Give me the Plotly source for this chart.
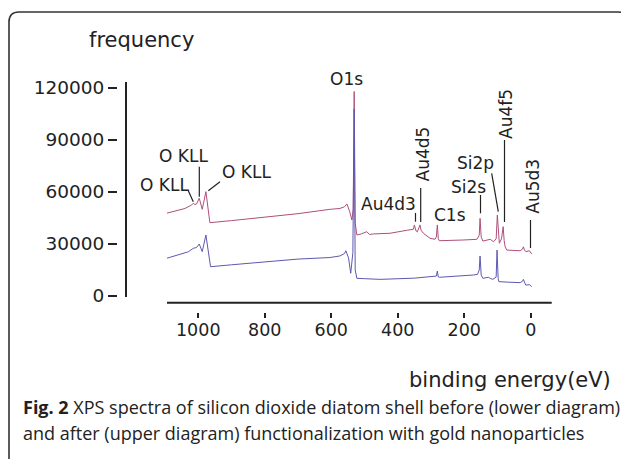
import plotly.graph_objects as go

# ---------------- data ----------------
upper_ev = [1096, 1060, 1040, 1020, 1015, 1010, 1005, 997, 988, 977, 970, 965,
            900, 800, 700, 604, 574, 560, 553, 545, 538, 534, 531, 528, 523,
            510, 493, 485, 473, 423, 400, 370, 353, 350, 345, 341, 333, 330,
            323, 303, 288, 284, 281, 278, 275, 240, 203, 162, 155, 152.5, 149,
            144, 130, 122, 112, 104, 100.5, 97, 94.5, 88, 85, 83, 80, 77, 72,
            50, 32, 25, 22, 19, 15, 4, -3]
upper_counts = [47700, 49500, 50500, 52500, 53500, 52800, 53100, 56400, 50000,
                60200, 50000, 42300, 43500, 45500, 47500, 50000, 50500, 51500,
                53100, 49000, 43900, 50000, 118000, 42000, 35200, 35800, 37100,
                35500, 35800, 36200, 36800, 38000, 38500, 41000, 37500, 37100,
                41000, 38000, 36200, 33300, 32700, 34000, 41000, 33000, 31900,
                32000, 32300, 32700, 35000, 44800, 34000, 31700, 32200, 32700,
                31300, 33000, 46700, 34000, 30400, 33000, 39000, 40000, 32000,
                28400, 26500, 26300, 26100, 27000, 28400, 26500, 25600, 26100,
                24200]

lower_ev = [1096, 1060, 1030, 1015, 1005, 997, 988, 977, 970, 963, 900, 800,
            700, 604, 574, 560, 556, 548, 541.5, 535, 531, 528, 523, 500, 453,
            350, 293, 284, 281, 278, 275, 200, 172.7, 160, 155, 152.5, 149,
            144, 127.5, 120, 114, 104, 101.4, 98, 96, 70, 32, 25, 22, 19, 15,
            4, -3]
lower_counts = [21700, 23800, 25500, 27500, 28000, 30000, 25600, 35200, 25000,
                16900, 18000, 19800, 21300, 22200, 23100, 24500, 26100, 22000,
                13100, 25000, 108000, 15000, 10200, 10000, 9600, 10300, 11100,
                11500, 14400, 11000, 10800, 11500, 12100, 12500, 15000, 23100,
                12000, 10200, 10800, 10000, 9600, 11000, 26500, 10000, 8300,
                8000, 7700, 8500, 9600, 8000, 6300, 6500, 5400]

x_tick_vals = [1000, 800, 600, 400, 200, 0]
x_tick_text = ["1000", "800", "600", "400", "200", "0"]
y_tick_vals = [0, 30000, 60000, 90000, 120000]
y_tick_text = ["0", "30000", "60000", "90000", "120000"]

peak_labels = ["O1s", "Au4d5", "Au4d3", "C1s", "Si2s", "Si2p", "Au4f5", "Au5d3",
               "O KLL", "O KLL", "O KLL"]

# ---------------- layout helpers (page pixel -> paper) ----------------
W, H = 629, 459
OX, OY = 8, 8   # default page body margin


def PX(px):
    return (px - OX) / W


def PY(py):
    return 1 - (py - OY) / H


INK = "#222222"
CHART_FONT = "DejaVu Sans"

fig = go.Figure()
fig.add_trace(go.Scatter(x=upper_ev, y=upper_counts, mode="lines",
                         line=dict(color="#ad4f7a", width=1),
                         showlegend=False, hoverinfo="skip"))
fig.add_trace(go.Scatter(x=lower_ev, y=lower_counts, mode="lines",
                         line=dict(color="#5d58b0", width=1),
                         showlegend=False, hoverinfo="skip"))

# plot area: x from px 167 to 551.7, y from px 82 (top) to px 311.5 (tick row)
PX_PER_COUNT = 208 / 120000          # 0 at px 296, 120000 at px 88
y_bottom_val = -(311.5 - 296) / PX_PER_COUNT
y_top_val = (296 - 82) / PX_PER_COUNT
x_range = [1094, -63]
y_range = [y_bottom_val, y_top_val]

fig.update_layout(
    template="none",
    width=W, height=H,
    margin=dict(l=0, r=0, t=0, b=0, pad=0, autoexpand=False),
    paper_bgcolor="white", plot_bgcolor="rgba(0,0,0,0)",
    font=dict(family=CHART_FONT, color=INK),
    xaxis=dict(domain=[PX(167), PX(551.7)], range=x_range, anchor="y",
               showline=False, ticks="outside", ticklen=5, tickwidth=1.5,
               tickcolor=INK, tickvals=x_tick_vals, ticktext=x_tick_text,
               tickfont=dict(size=17.5, color=INK), ticklabelstandoff=-3,
               showgrid=False, zeroline=False, automargin=False,
               fixedrange=True),
    yaxis=dict(domain=[PY(311.5), PY(82)], range=y_range, anchor="free",
               position=PX(117), showline=False, ticks="outside", ticklen=9,
               tickwidth=2, tickcolor=INK, tickvals=y_tick_vals,
               ticktext=y_tick_text, tickfont=dict(size=18.5, color=INK),
               showgrid=False, zeroline=False, automargin=False,
               fixedrange=True),
)

# axis lines (detached from the tick marks, as in the original)
fig.add_shape(type="line", xref="paper", yref="paper",
              x0=PX(126), x1=PX(126), y0=PY(82), y1=PY(297),
              line=dict(color=INK, width=2))
fig.add_shape(type="line", xref="paper", yref="paper",
              x0=PX(167), x1=PX(551.7), y0=PY(302.7), y1=PY(302.7),
              line=dict(color=INK, width=2))

# ---------------- peak labels ----------------
label_pos = [(346, 79, 0), (422.5, 154, -90), (389, 204, 0), (449.5, 215, 0),
             (468.3, 186.7, 0), (475.3, 163.3, 0), (506, 114, -90),
             (533, 186.7, -90), (164, 184.5, 0), (183.3, 156, 0),
             (246, 172, 0)]
for txt, (cx, cy, ang) in zip(peak_labels, label_pos):
    fig.add_annotation(text=txt, x=PX(cx), y=PY(cy), xref="paper",
                       yref="paper", showarrow=False, textangle=ang,
                       xanchor="center", yanchor="middle",
                       font=dict(size=17, color=INK, family=CHART_FONT))

leaders = [((420.7, 188), (420.7, 222)), ((415.5, 213), (415.5, 221.7)),
           ((480.5, 195), (480.5, 213.3)), ((491.7, 173.3), (498.3, 211.7)),
           ((504.5, 140), (504.5, 222)), ((530.5, 220), (530.5, 248)),
           ((188.3, 190.7), (193.3, 201.7)), ((199.3, 166.7), (199.3, 196.7)),
           ((220, 181.7), (208.3, 190.7))]
for (x0, y0), (x1, y1) in leaders:
    fig.add_shape(type="line", xref="paper", yref="paper",
                  x0=PX(x0), y0=PY(y0), x1=PX(x1), y1=PY(y1),
                  line=dict(color=INK, width=1.2))

# ---------------- axis titles ----------------
fig.add_annotation(text="frequency", x=PX(141), y=PY(40), xref="paper",
                   yref="paper", showarrow=False, xanchor="center",
                   yanchor="middle", font=dict(size=21, color=INK))
fig.add_annotation(text="binding energy(eV)", x=PX(510), y=PY(380),
                   xref="paper", yref="paper", showarrow=False,
                   xanchor="center", yanchor="middle",
                   font=dict(size=21, color=INK))

# ---------------- caption ----------------
CAP_FONT = "Open Sans"
fig.add_annotation(text="<b>Fig. 2</b> XPS spectra of silicon dioxide diatom shell before (lower diagram)",
                   x=PX(21), y=PY(407), xref="paper", yref="paper",
                   showarrow=False, xanchor="left", yanchor="middle",
                   font=dict(size=18, color=INK, family=CAP_FONT))
fig.add_annotation(text="and after (upper diagram) functionalization with gold nanoparticles",
                   x=PX(21), y=PY(433), xref="paper", yref="paper",
                   showarrow=False, xanchor="left", yanchor="middle",
                   font=dict(size=18, color=INK, family=CAP_FONT))

# ---------------- rounded frame ----------------
L, T, R, B, r = 9, 12, 628, 480, 10
frame_path = (f"M {PX(L)},{PY(B)} L {PX(L)},{PY(T + r)} "
              f"Q {PX(L)},{PY(T)} {PX(L + r)},{PY(T)} "
              f"L {PX(R - r)},{PY(T)} Q {PX(R)},{PY(T)} {PX(R)},{PY(T + r)} "
              f"L {PX(R)},{PY(B)}")
fig.add_shape(type="path", path=frame_path, xref="paper", yref="paper",
              line=dict(color="#333333", width=1.6))

fig.write_html("out.html", config={"displayModeBar": False})
